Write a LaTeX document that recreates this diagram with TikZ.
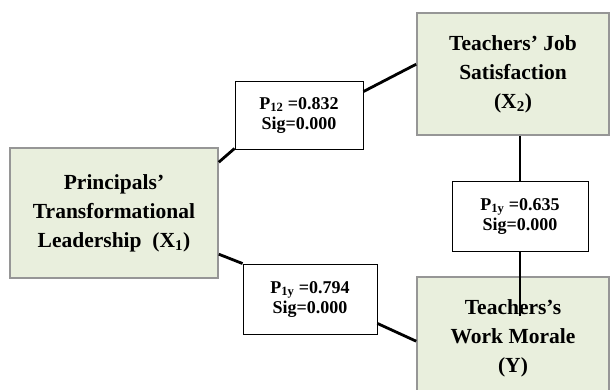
\documentclass[tikz,border=0pt]{standalone}
\usepackage{fontspec}
\setmainfont{Liberation Serif}
\usetikzlibrary{calc}
\definecolor{boxfill}{RGB}{233,239,221}
\definecolor{boxedge}{RGB}{150,150,150}
\tikzset{
  varbox/.style={draw=boxedge, line width=1.6pt, fill=boxfill, align=center,
    inner sep=0pt, font=\fontsize{21.5}{29}\selectfont\bfseries},
  coefbox/.style={draw=black, line width=0.9pt, fill=white, align=center,
    inner sep=0pt, font=\fontsize{18}{20}\selectfont\bfseries},
  link/.style={draw=black, line width=2.8pt}
}
\begin{document}
\begin{tikzpicture}[x=1pt,y=-1pt]
\useasboundingbox (0,0) rectangle (611,389);
\clip (0,0) rectangle (611,389);
% variable boxes
\node[varbox, minimum width=208pt, minimum height=130pt] (L) at (114,213)
  {Principals’\\Transformational\\Leadership~ (X\textsubscript{1})};
\node[varbox, minimum width=192pt, minimum height=122pt] (X2) at (513,74)
  {Teachers’ Job\\Satisfaction\\(X\textsubscript{2})};
\node[varbox, minimum width=192pt, minimum height=122pt] (Y) at (513,338)
  {Teachers’s\\Work Morale\\(Y)};
% coefficient boxes
\node[coefbox, minimum width=128pt, minimum height=68pt] (P12) at (299,115)
  {P\textsubscript{12} =0.832\\Sig=0.000};
\node[coefbox, minimum width=134pt, minimum height=70pt] (P1y) at (310,299)
  {P\textsubscript{1y} =0.794\\Sig=0.000};
\node[coefbox, minimum width=136pt, minimum height=70pt] (P2y) at (520,216)
  {P\textsubscript{1y} =0.635\\Sig=0.000};
% connectors
\coordinate (yend) at ([yshift=-40pt]Y.north);
\draw[link] ([yshift=-15pt]L.north east) -- ([yshift=1pt]P12.south west);
\draw[link] ([yshift=-11pt]P12.north east) -- ([yshift=-52pt]X2.north west);
\draw[link] ([yshift=-107pt]L.north east) -- (P1y.north west);
\draw[link] ([yshift=11pt]P1y.south east) -- ([yshift=-65pt]Y.north west);
\draw[link] (P2y.north) -- (P2y.north |- X2.south);
\draw[link] (P2y.south) -- (P2y.south |- yend);
\end{tikzpicture}
\end{document}
